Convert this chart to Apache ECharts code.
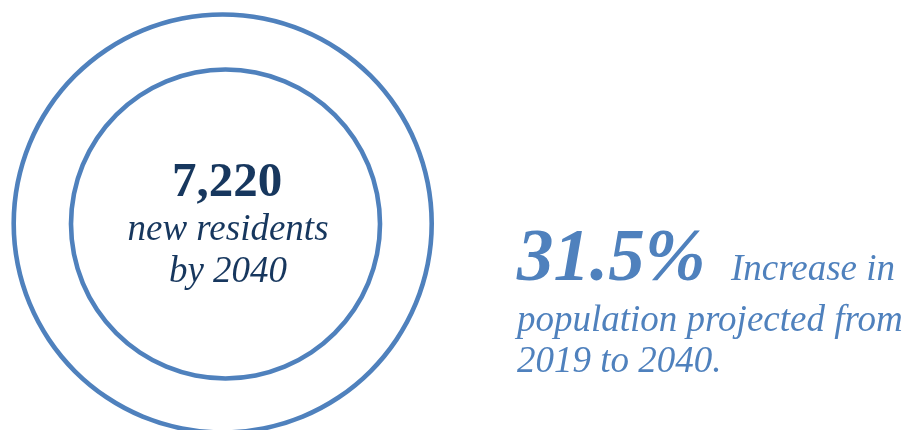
<!DOCTYPE html>
<html>
<head>
<meta charset="utf-8">
<script src="https://cdn.jsdelivr.net/npm/echarts@6/dist/echarts.min.js"></script>
<style>
  html, body { margin: 0; padding: 0; background: #ffffff; }
  #chart { width: 914px; height: 430px; }
</style>
</head>
<body>
<div id="chart"></div>
<script>
// Population projection figures
const newResidents = [7220];
const years = [2019, 2040];
const growthPercent = [31.5];
const rings = ['outer', 'inner'];

const BLUE = '#4f81bd';
const NAVY = '#17375e';
const SERIF = "'Liberation Serif', 'DejaVu Serif', 'Times New Roman', serif";

const ringLayout = {
  outer: { center: [222.7, 223.5], r: 209 },
  inner: { center: [225.5, 224], r: 154.5 }
};
const RING_W = 4.6;

const fmt = n => n.toLocaleString('en-US');

const chart = echarts.init(document.getElementById('chart'), null, { renderer: 'canvas' });

const ringSeries = rings.map(name => ({
  type: 'pie',
  name: name,
  silent: true,
  animation: false,
  center: ringLayout[name].center,
  radius: [ringLayout[name].r - RING_W / 2, ringLayout[name].r + RING_W / 2],
  label: { show: false },
  labelLine: { show: false },
  itemStyle: { color: BLUE, borderWidth: 0 },
  data: [{ value: 1, name: name }]
}));

// baseline helper: zrender centres text on 'middle'
const mid = (baseline, size) => baseline - 0.285 * size;

function txt(text, x, baseline, size, opts) {
  return {
    type: 'text',
    silent: true,
    style: {
      text: text,
      x: x,
      y: mid(baseline, size),
      fontStyle: opts.style || 'normal',
      fontWeight: opts.weight || 'normal',
      fontSize: size,
      fontFamily: SERIF,
      fill: opts.color,
      textAlign: opts.align || 'left',
      textVerticalAlign: 'middle'
    }
  };
}

const graphics = [
  txt(fmt(newResidents[0]), 227, 197, 49, { weight: 'bold', color: NAVY, align: 'center' }),
  txt('new residents', 228, 241, 37, { style: 'italic', color: NAVY, align: 'center' }),
  txt('by ' + years[1], 228, 283, 37, { style: 'italic', color: NAVY, align: 'center' }),
  txt(growthPercent[0].toFixed(1) + '%', 517, 282, 73, { style: 'italic', weight: 'bold', color: BLUE }),
  txt('Increase in', 731, 281, 37, { style: 'italic', color: BLUE }),
  txt('population projected from', 517, 332, 37, { style: 'italic', color: BLUE }),
  txt(years[0] + ' to ' + years[1] + '.', 517, 373, 37, { style: 'italic', color: BLUE })
];

chart.setOption({
  animation: false,
  backgroundColor: '#ffffff',
  series: ringSeries,
  graphic: graphics
});
</script>
</body>
</html>
